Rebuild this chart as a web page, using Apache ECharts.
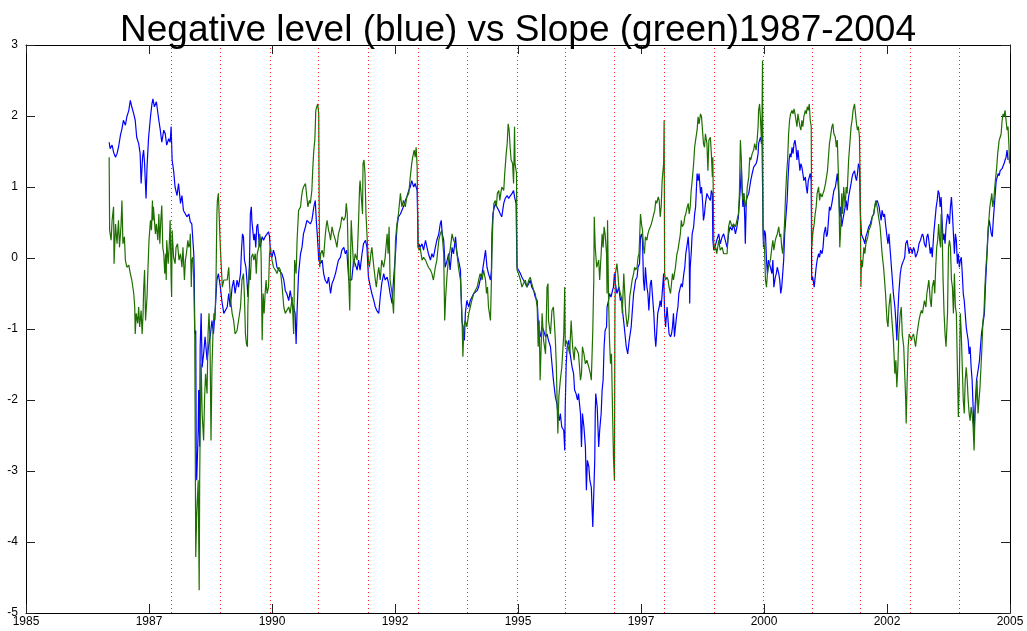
<!DOCTYPE html>
<html><head><meta charset="utf-8">
<script src="https://cdn.jsdelivr.net/npm/echarts@6/dist/echarts.min.js"></script>
<style>html,body{margin:0;padding:0;background:#fff}#c{width:1027px;height:631px}</style>
</head><body><div id="c"></div>
<script>
const titleText = 'Negative level (blue) vs Slope (green)1987-2004';
const yearRange = [1985, 2005];
const valueRange = [-5, 3];
// year-end roll dates (red dotted verticals)
const rollDates = [1987.96,1988.95,1989.97,1990.95,1991.96,1992.97,1993.96,1994.98,1995.96,1996.96,1997.98,1998.98,1999.98,2000.98,2001.96,2002.97,2003.96];

// Negative level (blue): [decimal year, value]
const levelData = [
[1986.69,1.63],[1986.71,1.54],[1986.75,1.59],[1986.78,1.49],[1986.82,1.42],[1986.85,1.47],[1986.88,1.56],[1986.92,1.73],[1986.95,1.82],[1986.98,1.94],[1987.02,1.87],[1987.05,1.99],[1987.09,2.08],[1987.12,2.22],[1987.15,2.13],[1987.19,2.03],[1987.22,1.94],[1987.25,1.70],[1987.29,1.61],[1987.32,1.47],[1987.34,1.05],[1987.37,1.42],[1987.39,1.52],[1987.41,1.33],[1987.44,0.84],[1987.46,1.28],[1987.49,1.68],[1987.53,1.99],[1987.56,2.17],[1987.58,2.24],[1987.61,2.13],[1987.65,2.20],[1987.70,1.94],[1987.73,1.80],[1987.76,1.63],[1987.80,1.80],[1987.83,1.75],[1987.86,1.59],[1987.90,1.68],[1987.93,1.63],[1987.95,1.85],[1987.97,1.38],[1988.00,1.23],[1988.03,1.00],[1988.07,0.88],[1988.10,1.05],[1988.14,0.77],[1988.17,0.88],[1988.20,0.67],[1988.24,0.62],[1988.27,0.58],[1988.31,0.62],[1988.34,0.51],[1988.37,0.48],[1988.41,0.06],[1988.42,-0.22],[1988.43,-1.07],[1988.45,-1.02],[1988.46,-2.80],[1988.47,-3.13],[1988.50,-2.43],[1988.51,-1.86],[1988.53,-2.66],[1988.54,-1.25],[1988.56,-0.78],[1988.58,-1.54],[1988.61,-1.35],[1988.64,-1.11],[1988.68,-1.44],[1988.71,-1.25],[1988.75,-1.07],[1988.78,-0.88],[1988.81,-1.07],[1988.85,-0.69],[1988.88,-0.31],[1988.91,-0.22],[1988.95,-0.41],[1988.98,-0.60],[1989.02,-0.78],
[1989.09,-0.69],[1989.12,-0.50],[1989.15,-0.69],[1989.19,-0.41],[1989.22,-0.31],[1989.25,-0.50],[1989.29,-0.31],[1989.32,-0.41],[1989.36,-0.22],[1989.38,0.11],[1989.40,0.34],[1989.42,0.30],[1989.44,-0.03],[1989.47,-0.13],[1989.49,-0.31],[1989.51,-0.55],[1989.54,-0.13],[1989.56,0.62],[1989.58,0.72],[1989.59,0.53],[1989.63,0.25],[1989.65,0.34],[1989.67,0.15],[1989.69,0.44],[1989.71,0.48],[1989.74,0.20],[1989.76,0.15],[1989.80,0.30],[1989.83,0.25],[1989.86,0.30],[1989.90,0.34],[1989.93,0.37],[1989.95,0.30],[1989.97,0.06],[1990.00,0.01],[1990.03,0.11],[1990.07,0.01],[1990.10,-0.13],[1990.14,-0.17],[1990.17,-0.17],[1990.20,-0.22],[1990.24,-0.31],[1990.27,-0.46],[1990.30,-0.50],[1990.34,-0.60],[1990.37,-0.46],[1990.41,-0.64],[1990.44,-0.69],[1990.47,-0.78],[1990.49,-1.21],[1990.51,-0.74],[1990.54,-0.22],[1990.58,0.06],[1990.61,0.15],[1990.64,0.34],[1990.68,0.44],[1990.71,0.53],[1990.74,0.55],[1990.78,0.48],[1990.81,0.53],[1990.85,0.72],[1990.88,0.81],[1990.90,0.53],[1990.92,0.34],[1990.95,-0.03],[1990.98,-0.08],[1991.02,-0.03],[1991.05,-0.22],[1991.08,-0.31],[1991.12,-0.36],[1991.15,-0.27],[1991.19,-0.50],[1991.22,-0.36],[1991.25,-0.31],[1991.29,-0.22],[1991.32,-0.22],[1991.35,-0.03],[1991.39,0.01],[1991.42,0.11],[1991.46,0.15],[1991.49,0.06],[1991.52,0.11],[1991.56,-0.31],
[1991.62,-0.31],[1991.66,-0.03],[1991.69,-0.08],[1991.73,-0.17],[1991.76,-0.03],[1991.79,-0.17],[1991.83,0.06],[1991.86,0.20],[1991.90,0.25],[1991.93,0.15],[1991.96,-0.27],[1992.00,-0.41],[1992.03,-0.50],[1992.07,-0.60],[1992.10,-0.69],[1992.13,-0.74],[1992.17,-0.78],[1992.20,-0.55],[1992.23,-0.36],[1992.27,-0.22],[1992.30,-0.31],[1992.34,-0.27],[1992.37,-0.36],[1992.40,-0.50],[1992.44,-0.64],[1992.47,-0.31],[1992.51,0.06],[1992.54,0.44],[1992.57,0.58],[1992.61,0.62],[1992.64,0.67],[1992.67,0.72],[1992.71,0.81],[1992.74,0.86],[1992.78,0.95],[1992.81,1.00],[1992.84,1.09],[1992.88,1.00],[1992.91,1.05],[1992.95,0.95],[1992.97,0.15],[1992.99,0.20],[1993.01,0.15],[1993.05,0.20],[1993.08,0.11],[1993.12,0.25],[1993.15,0.15],[1993.18,0.06],[1993.22,-0.03],[1993.25,0.06],[1993.28,0.01],[1993.32,0.15],[1993.35,0.25],[1993.39,0.34],[1993.42,0.48],[1993.44,0.53],[1993.46,0.34],[1993.49,0.25],[1993.52,-0.13],[1993.56,-0.03],[1993.59,0.06],[1993.62,-0.17],[1993.66,0.15],[1993.69,0.06],[1993.73,0.30],[1993.76,0.06],[1993.79,-0.03],[1993.83,-0.17],[1993.86,-0.88],[1993.88,-0.97],[1993.91,-1.16],[1993.93,-0.78],[1993.96,-0.60],[1994.00,-0.69],[1994.03,-0.60],[1994.06,-0.60],[1994.10,-0.50],
[1994.17,-0.46],[1994.20,-0.41],[1994.23,-0.31],[1994.27,-0.22],[1994.30,-0.08],[1994.34,0.11],[1994.37,-0.13],[1994.40,-0.22],[1994.44,-0.31],[1994.46,-0.17],[1994.47,0.34],[1994.49,0.62],[1994.52,0.72],[1994.54,0.77],[1994.57,0.72],[1994.61,0.67],[1994.64,0.62],[1994.67,0.58],[1994.71,0.77],[1994.74,0.84],[1994.78,0.88],[1994.81,0.84],[1994.84,0.86],[1994.88,0.91],[1994.91,0.95],[1994.93,0.86],[1994.96,0.77],[1994.98,-0.13],[1995.01,-0.17],[1995.05,-0.22],[1995.08,-0.27],[1995.11,-0.31],[1995.15,-0.36],[1995.18,-0.41],[1995.22,-0.36],[1995.25,-0.31],[1995.28,-0.41],[1995.32,-0.46],[1995.35,-0.55],[1995.39,-0.60],[1995.41,-0.88],[1995.43,-1.07],[1995.45,-1.11],[1995.49,-0.97],[1995.52,-1.02],[1995.56,-1.11],[1995.59,-1.07],[1995.62,-1.16],[1995.66,-1.25],[1995.69,-1.49],[1995.72,-1.72],[1995.76,-1.96],[1995.79,-2.05],[1995.81,-2.19],[1995.84,-2.29],[1995.86,-2.19],[1995.89,-2.38],[1995.93,-2.43],[1995.95,-2.71],[1995.96,-2.10],[1995.98,-1.49],[1996.00,-1.25],[1996.03,-1.16],[1996.06,-1.35],[1996.10,-1.54],[1996.13,-1.63],[1996.15,-1.86],[1996.18,-1.91],[1996.21,-2.00],[1996.23,-1.91],[1996.27,-2.19],[1996.29,-2.66],[1996.31,-2.19],[1996.34,-2.38],[1996.37,-2.66],[1996.39,-3.27],[1996.41,-2.85],[1996.44,-2.94],[1996.46,-3.13],[1996.49,-3.23],[1996.52,-3.79],[1996.54,-3.32],[1996.56,-2.85],[1996.57,-2.19],[1996.58,-1.91],[1996.61,-2.10],[1996.64,-2.66],[1996.66,-2.43],
[1996.69,-2.19],[1996.71,-1.86],[1996.73,-1.72],[1996.75,-1.25],[1996.77,-1.02],[1996.80,-0.97],[1996.81,-0.69],[1996.84,-0.60],[1996.86,-0.50],[1996.89,-0.55],[1996.92,-0.46],[1996.94,-0.41],[1996.96,-0.22],[1996.98,-0.36],[1997.01,-0.50],[1997.05,-0.41],[1997.08,-0.60],[1997.11,-0.55],[1997.13,-0.78],[1997.16,-0.97],[1997.18,-1.11],[1997.20,-1.25],[1997.23,-1.35],[1997.26,-1.16],[1997.28,-1.07],[1997.30,-0.97],[1997.32,-0.78],[1997.35,-0.50],[1997.37,-0.41],[1997.39,-0.31],[1997.42,-0.27],[1997.44,-0.13],[1997.47,-0.08],[1997.49,0.30],[1997.51,0.34],[1997.53,0.25],[1997.55,-0.31],[1997.57,-0.46],[1997.59,-0.13],[1997.62,-0.41],[1997.64,-0.50],[1997.66,-0.74],[1997.69,-0.36],[1997.71,-0.31],[1997.73,-0.50],[1997.76,-0.78],[1997.78,-1.07],[1997.80,-1.25],[1997.81,-1.16],[1997.84,-0.78],[1997.87,-0.69],[1997.89,-0.60],[1997.91,-0.69],[1997.93,-0.50],[1997.96,-0.22],[1997.98,-0.78],[1998.00,-0.97],[1998.03,-0.69],[1998.05,-0.88],[1998.07,-1.07],[1998.10,-1.11],[1998.12,-1.07],[1998.14,-0.97],[1998.16,-0.78],[1998.18,-1.11],[1998.20,-0.97],[1998.23,-0.78],[1998.25,-0.69],[1998.27,-0.50],[1998.30,-0.41],[1998.32,-0.36],[1998.34,-0.41],[1998.37,-0.22],[1998.39,-0.13],[1998.41,0.06],[1998.44,0.20],[1998.46,0.30],[1998.48,0.06],[1998.49,-0.64],[1998.50,-0.13],[1998.52,0.06],[1998.54,0.34],[1998.57,0.44],[1998.59,0.62],[1998.61,0.72],[1998.64,1.19],[1998.66,1.09],[1998.68,1.19],[1998.71,0.91],[1998.73,1.00],[1998.75,0.81],[1998.77,0.53],[1998.79,0.62],[1998.81,0.77],[1998.84,0.91],[1998.87,0.86],[1998.91,0.81],[1998.93,0.95],[1998.95,0.91],[1998.96,0.25],[1998.98,0.11],[1999.00,0.15],[1999.02,0.20],[1999.04,0.25],[1999.08,0.34],[1999.11,0.20],[1999.15,0.30],[1999.18,0.34],
[1999.25,0.15],[1999.28,0.34],[1999.31,0.44],[1999.35,0.39],[1999.38,0.48],[1999.42,0.34],[1999.45,0.44],[1999.48,0.58],[1999.52,1.00],[1999.54,1.28],[1999.57,0.72],[1999.59,0.91],[1999.61,0.53],[1999.62,0.20],[1999.64,0.81],[1999.66,0.86],[1999.69,0.91],[1999.71,1.00],[1999.73,1.09],[1999.76,1.19],[1999.79,1.28],[1999.81,1.28],[1999.84,1.33],[1999.86,1.38],[1999.88,1.47],[1999.89,1.61],[1999.91,1.66],[1999.93,1.70],[1999.95,1.61],[1999.96,1.66],[1999.98,0.44],[1999.99,0.15],[2000.01,0.39],[2000.03,0.34],[2000.05,-0.03],[2000.07,-0.22],[2000.09,-0.03],[2000.11,-0.08],[2000.13,-0.13],[2000.16,-0.22],[2000.18,-0.03],[2000.20,-0.41],[2000.23,-0.27],[2000.25,-0.22],[2000.27,-0.13],[2000.30,-0.22],[2000.32,-0.31],[2000.34,-0.50],[2000.36,-0.41],[2000.38,-0.22],[2000.40,-0.03],[2000.42,0.34],[2000.44,0.53],[2000.47,0.81],[2000.49,1.14],[2000.51,1.38],[2000.53,1.47],[2000.55,1.42],[2000.57,1.56],[2000.59,1.47],[2000.61,1.61],[2000.63,1.66],[2000.65,1.56],[2000.67,1.38],[2000.69,1.52],[2000.71,1.38],[2000.73,1.23],[2000.75,1.33],[2000.77,1.28],[2000.79,1.19],[2000.81,1.09],[2000.84,1.14],[2000.86,1.00],[2000.88,0.91],[2000.90,1.09],[2000.92,1.14],[2000.94,1.19],[2000.96,1.09],[2000.97,-0.31],[2000.99,-0.27],[2001.02,-0.41],[2001.04,-0.27],[2001.06,-0.13],[2001.08,-0.03],[2001.11,0.06],[2001.13,0.01],[2001.15,0.11],[2001.18,0.06],[2001.20,0.15],[2001.22,0.34],[2001.25,0.44],[2001.27,0.30],[2001.29,0.34],[2001.31,0.53],[2001.33,0.72],[2001.35,0.67],[2001.38,0.77],[2001.40,0.86],[2001.42,0.95],[2001.45,1.00],[2001.47,1.09],[2001.49,1.19],[2001.52,0.91],[2001.54,0.58],[2001.56,0.72],[2001.58,0.44],[2001.60,0.53],[2001.62,0.53],[2001.65,0.72],[2001.67,0.81],[2001.69,0.67],[2001.72,0.86],
[2001.77,1.05],[2001.79,1.14],[2001.81,1.19],[2001.84,1.23],[2001.86,1.14],[2001.88,1.09],[2001.90,1.19],[2001.92,1.33],[2001.94,1.28],[2001.95,1.00],[2001.96,0.62],[2001.98,0.34],[2002.00,0.30],[2002.03,0.25],[2002.05,0.20],[2002.07,0.30],[2002.09,0.34],[2002.11,0.39],[2002.13,0.44],[2002.16,0.48],[2002.18,0.53],[2002.20,0.58],[2002.23,0.62],[2002.25,0.72],[2002.27,0.77],[2002.30,0.81],[2002.32,0.77],[2002.34,0.72],[2002.36,0.62],[2002.38,0.53],[2002.40,0.67],[2002.43,0.58],[2002.45,0.62],[2002.47,0.48],[2002.50,0.30],[2002.52,0.20],[2002.54,0.34],[2002.57,0.06],[2002.59,-0.13],[2002.61,-0.31],[2002.63,-0.50],[2002.66,-0.69],[2002.68,-0.88],[2002.70,-1.16],[2002.72,-0.78],[2002.74,-0.50],[2002.77,-0.22],[2002.79,-0.13],[2002.81,-0.08],[2002.84,-0.03],[2002.86,0.01],[2002.88,0.20],[2002.91,0.25],[2002.93,0.15],[2002.95,0.06],[2002.97,0.15],[2003.00,0.11],[2003.01,0.06],[2003.04,0.15],[2003.06,0.11],[2003.08,0.01],[2003.11,0.06],[2003.13,0.11],[2003.15,0.20],[2003.18,0.25],[2003.20,0.30],[2003.22,0.34],[2003.24,0.30],[2003.26,0.20],[2003.29,0.15],[2003.31,0.30],[2003.33,0.34],[2003.35,0.25],[2003.38,0.06],[2003.40,0.15],[2003.42,0.01],[2003.45,0.34],[2003.48,0.34],[2003.50,0.72],[2003.52,0.81],[2003.54,0.95],[2003.56,0.91],[2003.58,0.72],
[2003.60,0.86],[2003.62,0.53],[2003.64,0.25],[2003.66,0.34],[2003.68,0.20],[2003.70,0.44],[2003.73,0.62],[2003.75,0.58],[2003.77,0.48],[2003.79,0.72],[2003.81,0.86],[2003.83,0.62],[2003.85,0.34],[2003.87,0.06],[2003.89,0.34],[2003.91,0.25],[2003.93,-0.08],[2003.95,0.06],[2003.97,-0.13],[2003.99,-0.03],[2004.01,0.01],[2004.03,-0.22],[2004.05,-0.50],[2004.07,-0.60],[2004.09,-0.78],[2004.11,-0.97],[2004.13,-1.07],[2004.15,-1.16],[2004.17,-1.35],[2004.19,-1.25],[2004.21,-1.54],[2004.23,-1.72],[2004.25,-2.10],[2004.27,-2.47],[2004.29,-2.10],[2004.32,-1.72],[2004.34,-1.63],[2004.36,-1.54],[2004.38,-1.44],[2004.40,-1.25],[2004.42,-1.07],[2004.44,-0.97],[2004.46,-0.88],[2004.48,-0.78],[2004.50,-0.41],[2004.52,-0.13],[2004.54,0.15],[2004.56,0.44],[2004.58,0.53],[2004.60,0.53],[2004.62,0.34],[2004.64,0.30],[2004.66,0.53],[2004.68,0.72],[2004.70,0.91],[2004.72,1.09],[2004.74,1.14],[2004.76,1.19],[2004.78,1.16],[2004.80,1.23],[2004.82,1.23],[2004.84,1.26],[2004.86,1.28],[2004.88,1.33],[2004.90,1.38],[2004.92,1.42],[2004.94,1.52],[2004.96,1.38]
];

// Slope (green): [decimal year, value]
const slopeData = [
[1986.69,1.42],[1986.70,0.39],[1986.71,0.39],[1986.73,0.25],[1986.75,0.53],[1986.78,0.72],[1986.79,-0.08],[1986.82,0.48],[1986.85,0.20],[1986.88,0.53],[1986.90,0.15],[1986.93,0.44],[1986.95,0.81],[1986.97,0.20],[1987.00,0.30],[1987.02,-0.03],[1987.05,-0.13],[1987.09,-0.10],[1987.12,-0.22],[1987.15,-0.31],[1987.19,-0.50],[1987.21,-0.69],[1987.22,-1.07],[1987.24,-0.78],[1987.27,-0.92],[1987.29,-0.69],[1987.31,-0.97],[1987.34,-0.74],[1987.36,-1.07],[1987.38,-0.78],[1987.39,-0.46],[1987.41,-0.17],[1987.43,-0.88],[1987.46,-0.55],[1987.48,-0.13],[1987.50,0.25],[1987.53,0.53],[1987.55,0.39],[1987.57,0.81],[1987.58,0.53],[1987.59,0.72],[1987.63,0.34],[1987.65,0.48],[1987.68,0.25],[1987.70,0.62],[1987.72,0.20],[1987.74,0.53],[1987.76,0.74],[1987.78,0.15],[1987.80,0.06],[1987.82,-0.22],[1987.84,0.06],[1987.85,-0.31],[1987.86,0.25],[1987.89,-0.08],[1987.91,0.15],[1987.93,0.53],[1987.95,-0.31],[1987.96,-0.55],[1987.97,0.39],[1988.00,0.01],[1988.03,-0.08],[1988.05,0.15],[1988.08,0.20],[1988.11,-0.03],[1988.14,0.06],[1988.17,-0.13],[1988.19,0.15],[1988.22,-0.31],[1988.24,-0.03],[1988.26,0.06],[1988.29,0.25],[1988.31,0.15],[1988.33,0.20],[1988.34,0.34],[1988.36,-0.41],[1988.37,-0.03],[1988.39,0.01],[1988.41,-0.31],[1988.43,-1.07],[1988.45,-4.21],[1988.47,-3.60],[1988.50,-3.13],[1988.52,-4.68],[1988.53,-3.13],[1988.54,-2.43],[1988.56,-1.49],[1988.58,-2.19],[1988.61,-2.57],[1988.63,-1.96],[1988.65,-1.63],[1988.68,-1.91],[1988.70,-1.07],[1988.72,-0.78],[1988.74,-1.16],[1988.76,-2.57],[1988.78,-1.54],[1988.80,-1.07],[1988.82,-0.78],[1988.84,-0.88],[1988.86,-0.41],[1988.88,0.62],[1988.89,0.81],[1988.91,0.91],[1988.93,0.53],[1988.95,0.15],[1988.97,-0.13],[1988.99,-0.41],[1989.02,-0.31],
[1989.09,-0.31],[1989.12,-0.13],[1989.14,-0.41],[1989.16,-0.60],[1989.19,-0.78],[1989.22,-0.88],[1989.25,-1.07],[1989.29,-1.02],[1989.32,-0.88],[1989.36,-0.69],[1989.39,-0.31],[1989.42,-0.22],[1989.44,-0.55],[1989.46,-1.07],[1989.48,-1.21],[1989.50,-1.25],[1989.51,-0.69],[1989.54,-0.13],[1989.56,-0.31],[1989.58,0.01],[1989.61,0.06],[1989.63,-0.03],[1989.66,0.06],[1989.68,-0.22],[1989.70,0.06],[1989.73,0.15],[1989.75,0.34],[1989.77,0.25],[1989.78,-0.03],[1989.80,-1.16],[1989.82,-0.50],[1989.84,-0.78],[1989.86,-0.50],[1989.88,-0.31],[1989.90,-0.50],[1989.93,-0.41],[1989.95,0.06],[1989.97,0.15],[1990.00,-0.03],[1990.03,-0.13],[1990.07,-0.17],[1990.10,-0.22],[1990.14,-0.13],[1990.17,-0.17],[1990.20,-0.36],[1990.24,-0.69],[1990.27,-0.78],[1990.30,-0.78],[1990.34,-0.69],[1990.37,-0.78],[1990.41,-0.55],[1990.44,-1.07],[1990.46,-0.03],[1990.49,-0.22],[1990.51,0.25],[1990.54,0.67],[1990.58,0.72],[1990.60,0.86],[1990.62,0.95],[1990.64,1.00],[1990.68,1.05],[1990.70,0.91],[1990.73,0.72],[1990.76,0.81],[1990.78,0.77],[1990.81,0.95],[1990.83,1.28],[1990.85,1.52],[1990.87,1.66],[1990.88,1.85],[1990.89,2.08],[1990.91,2.13],[1990.93,2.17],[1990.95,2.03],[1990.96,0.58],[1990.97,-0.13],[1990.99,0.06],[1991.02,0.11],[1991.05,0.01],[1991.08,0.30],[1991.10,0.44],[1991.12,0.53],[1991.15,0.39],[1991.17,0.34],[1991.19,0.25],[1991.22,0.44],[1991.25,0.34],[1991.29,0.25],[1991.32,0.15],[1991.35,0.34],[1991.39,0.44],[1991.42,0.58],[1991.46,0.53],[1991.49,0.58],[1991.51,0.77],[1991.53,0.62],[1991.56,-0.31],[1991.58,-0.74],
[1991.61,0.53],[1991.63,0.25],[1991.66,-0.13],[1991.69,0.06],[1991.73,-0.03],[1991.76,0.53],[1991.78,1.00],[1991.79,1.09],[1991.81,0.91],[1991.84,0.62],[1991.85,1.33],[1991.87,1.38],[1991.89,1.19],[1991.91,0.62],[1991.93,0.34],[1991.95,0.06],[1991.96,-0.03],[1991.98,-0.13],[1992.01,0.06],[1992.03,0.15],[1992.07,-0.13],[1992.10,-0.31],[1992.12,-0.41],[1992.15,-0.22],[1992.17,-0.13],[1992.20,-0.31],[1992.23,-0.03],[1992.27,-0.13],[1992.30,0.01],[1992.34,0.34],[1992.36,0.06],[1992.38,0.44],[1992.40,-0.31],[1992.44,-0.50],[1992.47,-0.78],[1992.49,-0.31],[1992.51,0.25],[1992.54,0.48],[1992.57,0.62],[1992.61,0.91],[1992.64,0.72],[1992.67,0.81],[1992.71,0.72],[1992.74,0.86],[1992.78,0.91],[1992.81,1.14],[1992.84,1.33],[1992.86,1.42],[1992.89,1.52],[1992.91,1.42],[1992.93,1.56],[1992.95,1.28],[1992.97,0.15],[1992.99,0.11],[1993.01,0.15],[1993.05,-0.03],[1993.08,0.01],[1993.12,-0.03],[1993.15,-0.08],[1993.18,-0.13],[1993.22,-0.17],[1993.25,-0.22],[1993.28,-0.31],[1993.32,-0.13],[1993.35,-0.03],[1993.39,0.25],[1993.42,0.34],[1993.45,0.39],[1993.49,0.06],[1993.51,-0.88],[1993.53,-0.55],[1993.56,-0.22],[1993.59,0.01],[1993.62,0.11],[1993.66,0.34],[1993.69,0.25],[1993.73,0.20],[1993.76,0.06],[1993.79,-0.13],[1993.83,-0.31],[1993.86,-0.78],[1993.88,-1.39],[1993.90,-0.97],[1993.93,-0.88],[1993.96,-0.97],[1994.00,-0.78],[1994.03,-0.69],[1994.06,-0.60],[1994.10,-0.50],
[1994.17,-0.41],[1994.20,-0.31],[1994.23,-0.22],[1994.27,-0.31],[1994.30,-0.17],[1994.34,-0.31],[1994.36,-0.50],[1994.38,-0.41],[1994.40,-0.69],[1994.42,-0.78],[1994.44,-0.88],[1994.46,-0.31],[1994.47,0.06],[1994.49,0.53],[1994.51,0.77],[1994.54,0.81],[1994.56,0.72],[1994.58,0.91],[1994.61,0.95],[1994.63,0.81],[1994.65,0.91],[1994.67,1.00],[1994.71,0.95],[1994.73,1.19],[1994.74,1.28],[1994.76,1.47],[1994.78,1.61],[1994.80,1.89],[1994.82,1.80],[1994.84,1.56],[1994.86,1.38],[1994.89,1.33],[1994.91,1.05],[1994.93,1.85],[1994.94,1.33],[1994.97,1.19],[1994.98,-0.17],[1995.01,-0.22],[1995.05,-0.31],[1995.08,-0.41],[1995.11,-0.36],[1995.15,-0.31],[1995.18,-0.41],[1995.22,-0.31],[1995.25,-0.27],[1995.28,-0.36],[1995.32,-0.46],[1995.35,-0.50],[1995.39,-0.69],[1995.41,-1.25],[1995.43,-0.88],[1995.45,-1.72],[1995.49,-0.78],[1995.52,-1.16],[1995.56,-1.35],[1995.59,-0.41],[1995.61,-0.36],[1995.62,-0.88],[1995.66,-1.07],[1995.69,-0.74],[1995.72,-0.69],[1995.76,-1.16],[1995.78,-1.54],[1995.80,-2.19],[1995.81,-2.47],[1995.83,-1.96],[1995.86,-1.72],[1995.89,-1.54],[1995.93,-1.07],[1995.95,-0.41],[1995.96,-1.25],[1995.98,-1.16],[1996.02,-1.25],[1996.05,-1.35],[1996.08,-0.88],[1996.11,-1.25],[1996.14,-1.44],[1996.16,-1.25],[1996.20,-1.30],[1996.23,-1.35],[1996.27,-1.72],[1996.29,-1.63],[1996.31,-1.25],[1996.34,-1.35],[1996.37,-1.49],[1996.40,-1.44],[1996.44,-1.54],[1996.47,-1.63],[1996.49,-1.72],[1996.52,-1.02],[1996.54,-0.31],[1996.55,0.58],[1996.57,0.15],[1996.60,-0.13],[1996.64,-0.03],[1996.66,-0.31],
[1996.69,0.06],[1996.71,0.34],[1996.73,0.15],[1996.75,0.44],[1996.77,0.34],[1996.80,0.06],[1996.81,-0.50],[1996.82,0.53],[1996.84,-0.55],[1996.86,-1.16],[1996.88,-1.49],[1996.90,-1.35],[1996.92,-2.10],[1996.94,-2.80],[1996.96,-3.13],[1996.97,-0.78],[1996.98,-0.22],[1997.01,-0.08],[1997.03,-0.22],[1997.05,-0.41],[1997.08,-0.50],[1997.10,-0.55],[1997.12,-0.78],[1997.15,-0.22],[1997.17,-0.50],[1997.19,-0.78],[1997.22,-0.97],[1997.25,-0.83],[1997.27,-0.55],[1997.30,-0.41],[1997.32,-0.31],[1997.35,-0.22],[1997.37,-0.13],[1997.39,-0.17],[1997.42,-0.13],[1997.44,0.01],[1997.46,0.06],[1997.49,0.62],[1997.51,0.48],[1997.53,0.39],[1997.55,0.15],[1997.57,0.06],[1997.59,0.30],[1997.62,0.25],[1997.64,0.34],[1997.66,0.39],[1997.69,0.44],[1997.71,0.48],[1997.73,0.53],[1997.76,0.62],[1997.78,0.67],[1997.80,0.81],[1997.82,0.77],[1997.85,0.86],[1997.87,0.81],[1997.89,0.58],[1997.91,0.72],[1997.93,1.09],[1997.96,1.33],[1997.97,1.94],[1997.98,-0.22],[1998.00,-0.31],[1998.03,-0.27],[1998.05,-0.31],[1998.07,-0.41],[1998.10,-0.50],[1998.12,-0.36],[1998.14,-0.22],[1998.16,-0.31],[1998.18,-0.22],[1998.20,-0.13],[1998.23,0.06],[1998.25,0.11],[1998.27,0.20],[1998.30,0.34],[1998.32,0.53],[1998.34,0.44],[1998.37,0.48],[1998.39,0.58],[1998.41,0.62],[1998.44,0.72],[1998.46,0.77],[1998.48,0.62],[1998.50,0.72],[1998.52,0.95],[1998.54,1.09],[1998.57,1.33],[1998.59,1.56],[1998.61,1.66],[1998.64,1.80],[1998.66,1.99],[1998.68,1.89],[1998.71,2.03],[1998.73,1.99],[1998.75,1.80],[1998.77,1.61],[1998.79,1.56],[1998.81,1.75],[1998.84,1.61],[1998.86,1.23],[1998.88,1.66],[1998.91,1.70],[1998.93,1.47],[1998.95,1.14],[1998.96,1.42],[1998.98,0.20],[1999.00,0.11],[1999.02,0.15],[1999.04,0.06],[1999.08,0.25],[1999.11,0.11],[1999.15,0.15],[1999.18,0.06],
[1999.25,0.06],[1999.28,0.44],[1999.31,0.53],[1999.35,0.44],[1999.38,0.48],[1999.42,0.44],[1999.45,0.53],[1999.48,0.62],[1999.50,0.91],[1999.52,1.66],[1999.54,1.38],[1999.55,1.00],[1999.57,0.81],[1999.59,0.91],[1999.62,0.72],[1999.64,0.77],[1999.66,1.00],[1999.69,1.14],[1999.71,1.42],[1999.73,1.38],[1999.76,1.47],[1999.79,1.52],[1999.81,1.61],[1999.84,1.52],[1999.86,1.66],[1999.88,1.85],[1999.89,2.08],[1999.91,2.17],[1999.93,1.94],[1999.95,1.61],[1999.96,2.03],[1999.97,2.78],[1999.98,0.44],[1999.99,0.25],[2000.01,0.15],[2000.03,-0.31],[2000.05,-0.41],[2000.07,-0.22],[2000.09,-0.13],[2000.11,-0.08],[2000.13,-0.03],[2000.16,0.15],[2000.18,0.25],[2000.20,0.11],[2000.23,0.25],[2000.25,0.30],[2000.27,0.34],[2000.30,0.44],[2000.32,0.30],[2000.34,0.34],[2000.36,0.15],[2000.38,0.06],[2000.40,0.25],[2000.42,0.53],[2000.44,0.91],[2000.46,1.19],[2000.48,1.38],[2000.50,1.75],[2000.52,1.94],[2000.54,2.03],[2000.57,2.08],[2000.59,2.03],[2000.61,2.10],[2000.63,2.03],[2000.65,1.94],[2000.67,1.85],[2000.69,2.03],[2000.71,1.94],[2000.73,1.85],[2000.75,1.80],[2000.77,1.94],[2000.79,1.85],[2000.81,1.99],[2000.84,2.08],[2000.86,2.03],[2000.88,2.13],[2000.90,2.08],[2000.92,2.17],[2000.94,1.94],[2000.96,1.85],[2000.97,0.15],[2000.99,0.34],[2001.02,0.48],[2001.04,0.62],[2001.06,0.72],[2001.08,0.91],[2001.11,1.00],[2001.13,0.81],[2001.15,0.91],[2001.18,0.86],[2001.20,0.91],[2001.22,0.95],[2001.25,1.05],[2001.27,1.14],[2001.29,1.23],[2001.31,1.42],[2001.33,1.61],[2001.35,1.70],[2001.38,1.85],[2001.40,1.89],[2001.42,1.75],[2001.45,1.70],[2001.47,1.56],[2001.49,1.66],[2001.52,1.00],[2001.54,0.15],[2001.56,0.44],[2001.58,0.91],[2001.60,0.62],[2001.62,1.00],[2001.65,0.72],[2001.67,1.00],[2001.69,0.91],[2001.72,1.38],
[2001.77,1.85],[2001.79,1.94],[2001.81,2.08],[2001.84,2.17],[2001.86,2.03],[2001.88,1.89],[2001.90,1.80],[2001.92,1.85],[2001.94,1.70],[2001.95,1.28],[2001.96,0.53],[2001.97,-0.41],[2001.98,-0.03],[2002.00,-0.13],[2002.03,0.15],[2002.05,0.06],[2002.07,0.20],[2002.09,0.25],[2002.11,0.30],[2002.13,0.39],[2002.16,0.44],[2002.18,0.48],[2002.20,0.58],[2002.23,0.62],[2002.25,0.72],[2002.27,0.81],[2002.30,0.72],[2002.32,0.62],[2002.34,0.53],[2002.36,0.44],[2002.38,0.25],[2002.40,0.06],[2002.43,-0.13],[2002.45,-0.31],[2002.47,-0.50],[2002.50,-0.88],[2002.52,-0.97],[2002.54,-0.69],[2002.57,-0.50],[2002.59,-0.78],[2002.61,-0.97],[2002.63,-1.16],[2002.66,-1.63],[2002.68,-1.44],[2002.70,-1.82],[2002.72,-1.54],[2002.74,-1.07],[2002.77,-0.78],[2002.79,-0.69],[2002.81,-1.07],[2002.84,-1.25],[2002.86,-1.63],[2002.88,-2.00],[2002.89,-2.33],[2002.91,-1.72],[2002.93,-1.25],[2002.95,-1.07],[2002.97,-1.07],[2003.00,-1.16],[2003.01,-1.11],[2003.04,-1.07],[2003.06,-1.16],[2003.08,-1.25],[2003.11,-1.07],[2003.13,-0.97],[2003.15,-0.88],[2003.18,-0.78],[2003.20,-0.74],[2003.22,-0.78],[2003.24,-0.69],[2003.26,-0.60],[2003.29,-0.69],[2003.31,-0.50],[2003.33,-0.41],[2003.35,-0.31],[2003.38,-0.60],[2003.40,-0.69],[2003.42,-0.41],[2003.45,-0.31],[2003.47,-0.50],[2003.49,-0.13],[2003.51,0.15],[2003.53,0.25],[2003.55,0.48],[2003.57,0.25],[2003.59,0.15],
[2003.60,0.62],[2003.62,0.39],[2003.64,-0.31],[2003.66,-0.78],[2003.68,-1.07],[2003.70,-1.25],[2003.73,-0.78],[2003.75,0.15],[2003.77,0.25],[2003.79,0.15],[2003.81,-0.31],[2003.83,-0.41],[2003.85,-0.78],[2003.87,-0.22],[2003.89,-0.69],[2003.91,-0.78],[2003.93,-1.54],[2003.95,-2.24],[2003.97,-1.72],[2003.99,-0.78],[2004.01,-1.07],[2004.03,-1.54],[2004.05,-2.00],[2004.07,-2.19],[2004.09,-1.72],[2004.11,-1.54],[2004.13,-1.72],[2004.15,-2.00],[2004.17,-2.19],[2004.19,-2.29],[2004.21,-2.10],[2004.23,-2.19],[2004.25,-2.38],[2004.27,-2.71],[2004.29,-2.19],[2004.31,-2.00],[2004.33,-1.72],[2004.35,-2.19],[2004.37,-2.00],[2004.39,-1.82],[2004.41,-1.54],[2004.43,-1.25],[2004.45,-0.88],[2004.47,-0.78],[2004.49,-0.41],[2004.51,-0.13],[2004.53,0.06],[2004.55,0.34],[2004.57,0.53],[2004.59,0.72],[2004.61,0.81],[2004.63,0.91],[2004.65,0.72],[2004.67,0.81],[2004.69,1.00],[2004.71,1.14],[2004.73,1.28],[2004.75,1.47],[2004.78,1.66],[2004.80,1.70],[2004.82,1.75],[2004.84,1.94],[2004.86,2.03],[2004.88,1.99],[2004.90,2.08],[2004.92,1.94],[2004.94,1.80],[2004.96,1.85],[2004.98,1.56],[2004.99,1.33]
];

const font = "'Liberation Sans', Arial, Helvetica, sans-serif";
function axisBase(extra) {
  return Object.assign({
    axisLine: { show: true, onZero: false, lineStyle: { color: '#000', width: 1 } },
    axisTick: { show: true, inside: true, length: 9, lineStyle: { color: '#222', width: 1 } },
    splitLine: { show: false }
  }, extra);
}
const chart = echarts.init(document.getElementById('c'), null, { renderer: 'canvas' });
chart.setOption({
  animation: false,
  backgroundColor: '#fff',
  title: {
    text: titleText, left: 513, top: 7, textAlign: 'center',
    textStyle: { fontFamily: font, fontSize: 37, fontWeight: 'normal', color: '#000' }
  },
  grid: { left: 26, right: 17, top: 45, bottom: 18, containLabel: false },
  xAxis: [
    axisBase({ type: 'value', min: yearRange[0], max: yearRange[1], interval: 2.5, position: 'bottom',
      axisLabel: { formatter: v => String(Math.floor(v)), color: '#000', fontFamily: font, fontSize: 12, margin: 3, showMinLabel: true, showMaxLabel: true } }),
    axisBase({ type: 'value', min: yearRange[0], max: yearRange[1], interval: 2.5, position: 'top', axisLabel: { show: false } })
  ],
  yAxis: [
    axisBase({ type: 'value', min: valueRange[0], max: valueRange[1], interval: 1, position: 'left',
      axisLabel: { color: '#000', fontFamily: font, fontSize: 12, margin: 8, showMinLabel: true, showMaxLabel: true } }),
    axisBase({ type: 'value', min: valueRange[0], max: valueRange[1], interval: 1, position: 'right', axisLabel: { show: false } })
  ],
  series: [
    { name: 'level', type: 'line', data: levelData, xAxisIndex: 0, yAxisIndex: 0, showSymbol: false, symbol: 'none',
      lineStyle: { color: '#0000ff', width: 1.2 }, itemStyle: { color: '#0000ff' }, z: 2, silent: true },
    { name: 'slope', type: 'line', data: slopeData, xAxisIndex: 0, yAxisIndex: 0, showSymbol: false, symbol: 'none',
      lineStyle: { color: '#1f6f00', width: 1.2 }, itemStyle: { color: '#1f6f00' }, z: 3, silent: true,
      markLine: { silent: true, symbol: ['none', 'none'], label: { show: false }, emphasis: { disabled: true },
        lineStyle: { color: 'rgba(255,0,0,0.85)', width: 1, type: [1, 3] },
        data: rollDates.map(d => ({ xAxis: d })) } }
  ]
});
</script>
</body></html>
